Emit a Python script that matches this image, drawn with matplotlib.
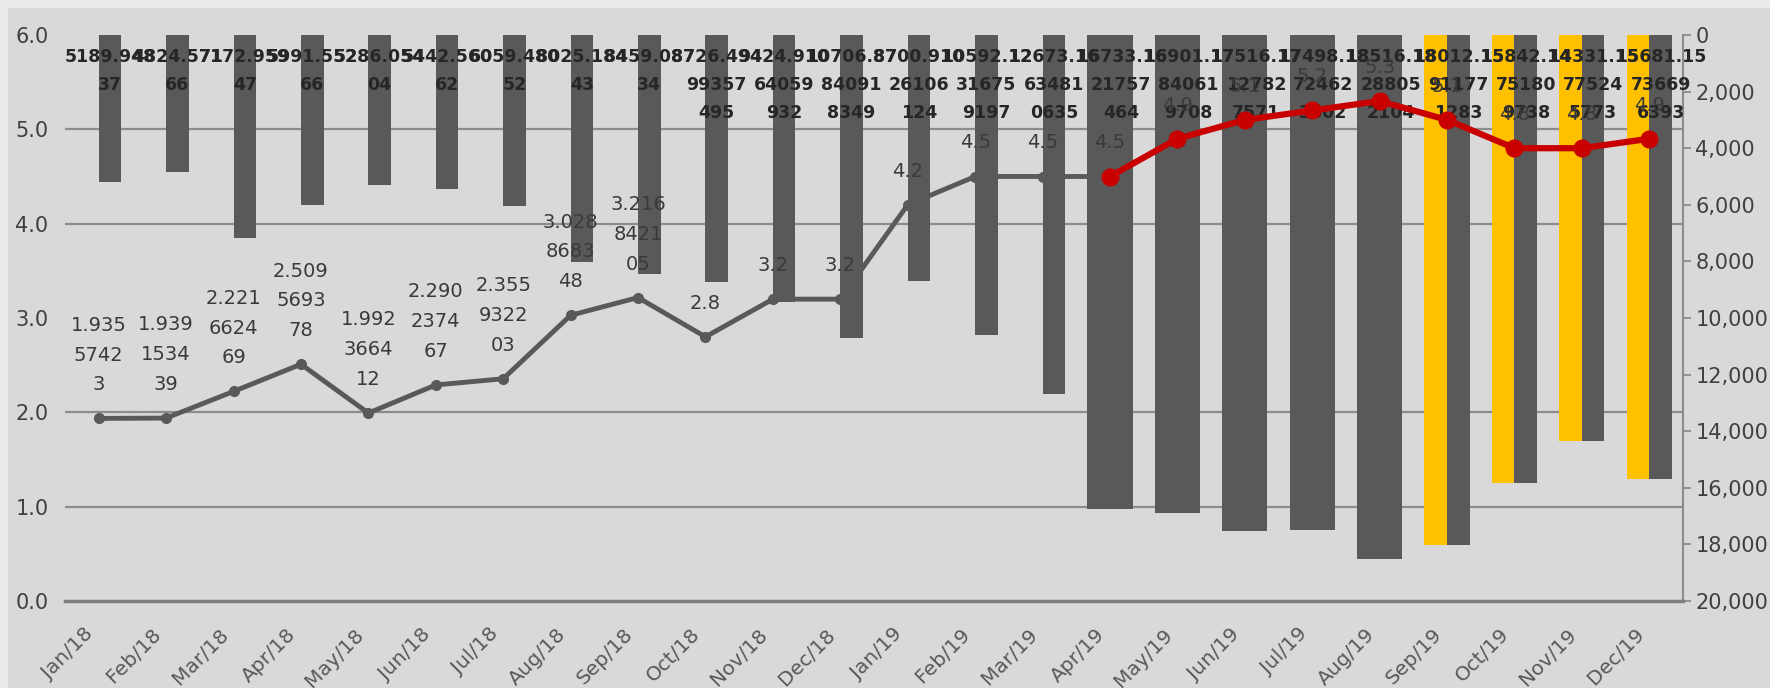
import matplotlib.pyplot as plt
import matplotlib.transforms as mtransforms
import numpy as np
from matplotlib.patches import Rectangle
from matplotlib.ticker import FixedLocator, FuncFormatter

months = ["Jan/18", "Feb/18", "Mar/18", "Apr/18", "May/18", "Jun/18",
          "Jul/18", "Aug/18", "Sep/18", "Oct/18", "Nov/18", "Dec/18",
          "Jan/19", "Feb/19", "Mar/19", "Apr/19", "May/19", "Jun/19",
          "Jul/19", "Aug/19", "Sep/19", "Oct/19", "Nov/19", "Dec/19"]

# monthly totals, right axis (bars hang from the top)
totals_txt = ["5189.94837", "4824.57166", "7172.95947", "5991.55266",
              "5286.05404", "5442.56062", "6059.48052", "8025.18443",
              "8459.08734", "8726.49499357495", "9424.91064059932",
              "10706.87840918349", "8700.91026106124", "10592.12316759197",
              "12673.16634810635", "16733.1621757464", "16901.17840619708",
              "17516.17127827571", "17498.18724623602", "18516.18288052104",
              "18012.15911771283", "15842.14751809738", "14331.15775245773",
              "15681.15736696393"]

# second series, only from Apr/19 on
totals_b = [np.nan] * 15 + [16733.16, 16901.18, 17516.17, 17498.19, 18516.18,
                            18012.16, 15842.15, 14331.16, 15681.16]

# rate, left axis
rate_txt = ["1.93557423", "1.939153439", "2.221662469", "2.509569378",
            "1.992366412", "2.290237467", "2.355932203", "3.028868348",
            "3.216842105", "2.8", "3.2", "3.2", "4.2", "4.5", "4.5", "4.5"]
rate_new_txt = ["4.5", "4.9", "5.1", "5.2", "5.3", "5.1", "4.8", "4.8", "4.9"]

totals = np.array(totals_txt, dtype=float)
rate = np.array(rate_txt, dtype=float)
rate_new = np.array(rate_new_txt, dtype=float)


def wrap(s, first, rest):
    lines = [s[:first]]
    s = s[first:]
    while s:
        lines.append(s[:rest])
        s = s[rest:]
    return "\n".join(lines)


GREY = "#595959"
YELLOW = "#FFC000"
RED = "#C80000"
GRID = "#8c8c8c"

fig = plt.figure(figsize=(17.7, 6.88), dpi=100)
fig.patch.set_facecolor("#ebebeb")
fig.add_artist(Rectangle((8 / 1770, 0), 1, (688 - 8) / 688, transform=fig.transFigure,
                         facecolor="#d9d9d9", edgecolor="none", zorder=-10))

ax = fig.add_axes([65 / 1770, 87 / 688, (1683 - 65) / 1770, (601 - 35) / 688])
ax.set_facecolor("#d9d9d9")
# rate lines go on a twin axis drawn above the bars
ax2 = ax.twinx()

x = np.arange(len(months))
w = 0.335

ax.bar(x + w / 2, totals, w, color=GREY, zorder=2)
b_colors = [GREY] * 20 + [YELLOW] * 4
ax.bar(x - w / 2, totals_b, w, color=b_colors, zorder=2)

for i, s in enumerate(totals_txt):
    ax.annotate(wrap(s, 8, 5), (x[i] + w / 2, 0), xytext=(0, -13),
                textcoords="offset pixels", ha="center", va="top",
                fontsize=12.5, fontweight="bold", color="#262626",
                linespacing=1.72, zorder=5)

ax.set_xlim(-0.5, len(months) - 0.5)
ax.set_ylim(20000, 0)
ax.yaxis.tick_right()
ax.yaxis.set_label_position("right")
ax.set_yticks(np.arange(0, 20001, 2000))
ax.yaxis.set_major_formatter(FuncFormatter(lambda v, p: f"{v:,.0f}"))
ax.yaxis.set_minor_locator(FixedLocator(np.linspace(0, 20000, 7)))
ax.grid(which="minor", axis="y", color=GRID, lw=1.6, zorder=0)
ax.set_axisbelow(True)
ax.tick_params(axis="y", which="minor", length=0, left=False, right=False)
ax.tick_params(axis="y", which="major", length=6, width=1.3, color=GRID,
               labelsize=15, labelcolor="#404040", pad=3,
               left=False, labelleft=False, right=True, labelright=True)
for sp in ["left", "top"]:
    ax.spines[sp].set_visible(False)
ax.spines["bottom"].set_color("#7f7f7f")
ax.spines["bottom"].set_linewidth(2.5)
ax.spines["right"].set_color(GRID)
ax.spines["right"].set_linewidth(1.5)

ax.set_xticks(x)
ax.set_xticklabels(months, rotation=45, ha="right", va="center",
                   rotation_mode="anchor", fontsize=14.5, color=GREY)
ax.tick_params(axis="x", length=0, pad=22)
shift = mtransforms.ScaledTranslation(-8 / 100, 0, fig.dpi_scale_trans)
for lab in ax.get_xticklabels():
    lab.set_transform(lab.get_transform() + shift)

ax2.set_ylim(0, 6)
ax2.set_yticks(np.arange(0, 7, 1))
ax2.yaxis.set_major_formatter(FuncFormatter(lambda v, p: f"{v:.1f}"))
ax2.tick_params(axis="y", length=0, labelsize=15, labelcolor="#404040", pad=12,
                left=True, labelleft=True, right=False, labelright=False)
for sp in ax2.spines.values():
    sp.set_visible(False)

ax2.plot(x[:len(rate)], rate, color=GREY, lw=3.5, marker="o", ms=7, zorder=3)
ax2.plot(x[15:], rate_new, color=RED, lw=4.5, marker="o", ms=12, zorder=4)

for i, s in enumerate(rate_txt):
    ax2.annotate(wrap(s, 5, 4), (x[i], rate[i]), xytext=(0, 24),
                 textcoords="offset pixels", ha="center", va="bottom",
                 fontsize=14, color="#3a3a3a", linespacing=1.72)
for i, s in enumerate(rate_new_txt[1:], start=16):
    ax2.annotate(s, (x[i], rate_new[i - 15]), xytext=(0, 24),
                 textcoords="offset pixels", ha="center", va="bottom",
                 fontsize=14, color="#3a3a3a")

fig.savefig("out.png", dpi=100, facecolor=fig.get_facecolor())
